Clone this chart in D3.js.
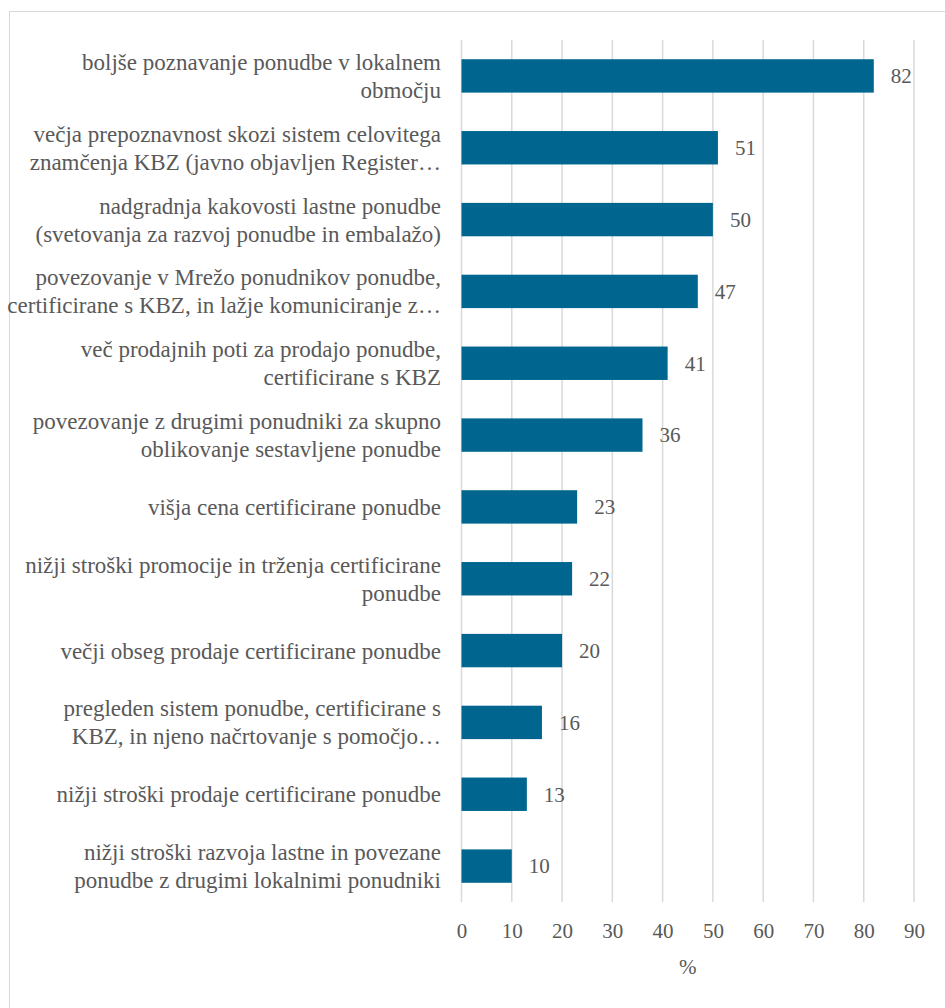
<!DOCTYPE html>
<html>
<head>
<meta charset="utf-8">
<script src="https://cdn.jsdelivr.net/npm/d3@7/dist/d3.min.js"></script>
</head>
<body style="margin:0;background:#fff">
<svg id="chart" width="945" height="1008" style="display:block" font-family="Liberation Serif"></svg>
<script>
// Category labels (already wrapped into display lines), top to bottom
const categories = [
  ["boljše poznavanje ponudbe v lokalnem", "območju"],
  ["večja prepoznavnost skozi sistem celovitega", "znamčenja KBZ (javno objavljen Register…"],
  ["nadgradnja kakovosti lastne ponudbe", "(svetovanja za razvoj ponudbe in embalažo)"],
  ["povezovanje v Mrežo ponudnikov ponudbe,", "certificirane s KBZ, in lažje komuniciranje z…"],
  ["več prodajnih poti za prodajo ponudbe,", "certificirane s KBZ"],
  ["povezovanje z drugimi ponudniki za skupno", "oblikovanje sestavljene ponudbe"],
  ["višja cena certificirane ponudbe"],
  ["nižji stroški promocije in trženja certificirane", "ponudbe"],
  ["večji obseg prodaje certificirane ponudbe"],
  ["pregleden sistem ponudbe, certificirane s", "KBZ, in njeno načrtovanje s pomočjo…"],
  ["nižji stroški prodaje certificirane ponudbe"],
  ["nižji stroški razvoja lastne in povezane", "ponudbe z drugimi lokalnimi ponudniki"]
];
const values = [82, 51, 50, 47, 41, 36, 23, 22, 20, 16, 13, 10];
const xTicks = [0, 10, 20, 30, 40, 50, 60, 70, 80, 90];
const axisTitle = "%";

const FONT = '"Liberation Serif"';
const TEXT_COLOR = "#595959";

// Ask for the serif face early so text is laid out with it
if (document.fonts && document.fonts.load) {
  document.fonts.load('23px "Liberation Serif"');
}

const svg = d3.select("#chart");

// Outer chart frame
svg.append("rect")
  .attr("x", 9.5).attr("y", 11.5)
  .attr("width", 960).attr("height", 1020)
  .attr("fill", "none").attr("stroke", "#d9d9d9").attr("stroke-width", 1);

const plot = { left: 461.5, right: 914, top: 40, bottom: 902 };

const x = d3.scaleLinear().domain([0, 90]).range([plot.left, plot.right]);
const y = d3.scaleBand()
  .domain(d3.range(categories.length))
  .range([plot.top, plot.bottom])
  .paddingInner(0.535).paddingOuter(0.2675);

// Vertical gridlines
svg.append("g").selectAll("line")
  .data(xTicks)
  .join("line")
  .attr("x1", d => x(d)).attr("x2", d => x(d))
  .attr("y1", plot.top).attr("y2", plot.bottom)
  .attr("stroke", "#d9d9d9").attr("stroke-width", 1.5);

// Bars
svg.append("g").selectAll("rect")
  .data(values)
  .join("rect")
  .attr("x", x(0))
  .attr("y", (d, i) => y(i))
  .attr("width", d => x(d) - x(0))
  .attr("height", y.bandwidth())
  .attr("fill", "#00668f");

// Value labels
svg.append("g").selectAll("text")
  .data(values)
  .join("text")
  .attr("x", d => x(d) + 17)
  .attr("y", (d, i) => y(i) + y.bandwidth() / 2)
  .attr("dy", "0.35em")
  .style("font-family", FONT)
  .style("font-size", "21px")
  .style("fill", TEXT_COLOR)
  .text(d => d);

// Category labels
const lineH = 28;
const catG = svg.append("g");
categories.forEach((lines, i) => {
  const cy = y(i) + y.bandwidth() / 2;
  const t = catG.append("text")
    .attr("text-anchor", "end")
    .style("font-family", FONT)
    .style("font-size", "23px")
    .style("fill", TEXT_COLOR);
  lines.forEach((ln, k) => {
    t.append("tspan")
      .attr("x", 441)
      .attr("y", cy + (k - (lines.length - 1) / 2) * lineH)
      .attr("dy", "0.35em")
      .text(ln);
  });
});

// X axis tick labels
const xAxis = d3.axisBottom(x).tickValues(xTicks).tickSize(0).tickPadding(21).tickFormat(d3.format("d"));
const axG = svg.append("g")
  .attr("transform", `translate(0,${plot.bottom})`)
  .call(xAxis);
axG.attr("font-family", null).attr("font-size", null);
axG.select(".domain").remove();
axG.selectAll("text")
  .style("font-family", FONT)
  .style("font-size", "21px")
  .style("fill", TEXT_COLOR);

// Axis title
svg.append("text")
  .attr("x", (plot.left + plot.right) / 2)
  .attr("y", 967)
  .attr("dy", "0.35em")
  .attr("text-anchor", "middle")
  .style("font-family", FONT)
  .style("font-size", "21px")
  .style("fill", TEXT_COLOR)
  .text(axisTitle);
</script>
</body>
</html>
